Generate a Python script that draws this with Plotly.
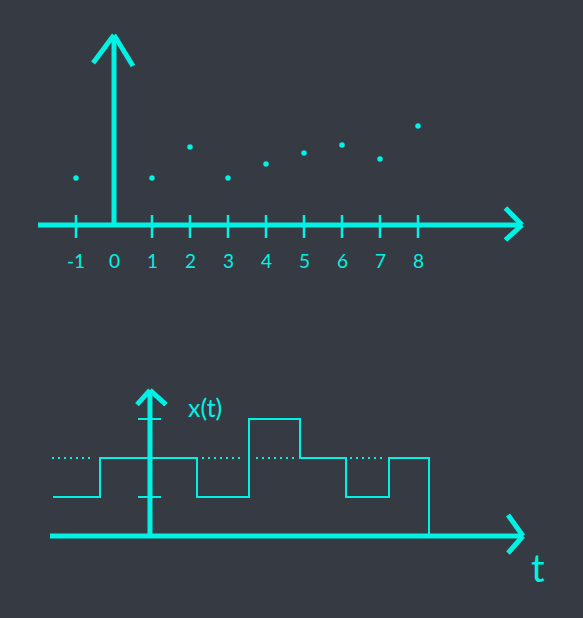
import plotly.graph_objects as go

# ---- data ----
n_values = [-1, 1, 2, 3, 4, 5, 6, 7, 8]
x_n = [4.7, 4.7, 7.8, 4.7, 6.1, 7.2, 8.0, 6.6, 9.9]
tick_labels = ["-1", "0", "1", "2", "3", "4", "5", "6", "7", "8"]
tick_positions = [-1, 0, 1, 2, 3, 4, 5, 6, 7, 8]

step_times = [-1.94, -1.0, 0.94, 1.98, 3.0, 3.92, 4.78, 5.58]
step_levels = [1, 2, 1, 3, 2, 1, 2, 0]
ref_level = 2
dotted_start = [-1.96, 1.04, 2.12, 4.0]
dotted_end = [-1.2, 1.84, 2.9, 4.66]
y_ticks = [1, 3]

BG = "#363a42"
CY = "#00f2e4"
FONT = "Lato"

fig = go.Figure()

# top: discrete samples
fig.add_trace(go.Scatter(x=n_values, y=x_n, mode="markers",
                         marker=dict(size=5.5, color=CY),
                         xaxis="x", yaxis="y", showlegend=False, hoverinfo="skip"))

# bottom: step signal
fig.add_trace(go.Scatter(x=step_times, y=step_levels, mode="lines",
                         line=dict(shape="hv", color=CY, width=2),
                         xaxis="x2", yaxis="y2", showlegend=False, hoverinfo="skip"))
for s, e in zip(dotted_start, dotted_end):
    fig.add_trace(go.Scatter(x=[s, e], y=[ref_level, ref_level], mode="lines",
                             line=dict(color=CY, width=2, dash="2px,4px"),
                             xaxis="x2", yaxis="y2", showlegend=False, hoverinfo="skip"))

shapes = []
def seg(x0, y0, x1, y1, w, ax=""):
    shapes.append(dict(type="line", x0=x0, y0=y0, x1=x1, y1=y1,
                       xref="x" + ax, yref="y" + ax,
                       line=dict(color=CY, width=w)))

# top axes
seg(-2.0, 0, 10.74, 0, 5)
seg(10.3, 1.7, 10.74, 0, 5)
seg(10.3, -1.5, 10.74, 0, 5)
seg(0, 0, 0, 19, 5)
seg(-0.55, 16.2, 0, 19, 5)
seg(0.5, 15.9, 0, 19, 5)
for p in n_values:
    seg(p, -1.3, p, 1.0, 2.5)

# bottom axes
seg(-2.0, 0, 7.46, 0, 5, "2")
seg(7.16, 0.54, 7.46, 0, 5, "2")
seg(7.16, -0.44, 7.46, 0, 5, "2")
seg(0, 0, 0, 3.74, 5, "2")
seg(-0.26, 3.37, 0, 3.74, 5, "2")
seg(0.32, 3.37, 0, 3.74, 5, "2")
for yt in y_ticks:
    seg(-0.24, yt, 0.22, yt, 2, "2")

annotations = []
for lab, p in zip(tick_labels, tick_positions):
    annotations.append(dict(x=p, y=-3.5, xref="x", yref="y", text=lab, showarrow=False,
                            font=dict(family=FONT, size=19, color=CY)))
annotations.append(dict(x=1.1, y=3.3, xref="x2", yref="y2", text="x(t)", showarrow=False,
                        font=dict(family=FONT, size=25, color=CY)))
annotations.append(dict(x=7.76, y=-0.8, xref="x2", yref="y2", text="t", showarrow=False,
                        font=dict(family=FONT, size=38, color=CY)))

ax_common = dict(visible=False, showgrid=False, zeroline=False, fixedrange=True)
fig.update_layout(
    width=583, height=618,
    margin=dict(l=0, r=0, t=0, b=0),
    paper_bgcolor=BG, plot_bgcolor=BG,
    xaxis=dict(range=[(0 - 114) / 38, (583 - 114) / 38], domain=[0, 1], **ax_common),
    yaxis=dict(range=[(225 - 618) / 10, 225 / 10], domain=[0, 1], **ax_common),
    xaxis2=dict(range=[(0 - 150) / 50, (583 - 150) / 50], domain=[0, 1], overlaying="x", **ax_common),
    yaxis2=dict(range=[(536 - 618) / 39, 536 / 39], domain=[0, 1], overlaying="y", **ax_common),
    shapes=shapes, annotations=annotations,
)

fig.write_html("out.html", config={"displayModeBar": False},
               post_script="document.body.style.margin='0';document.body.style.overflow='hidden';document.body.style.background='#363a42';")
